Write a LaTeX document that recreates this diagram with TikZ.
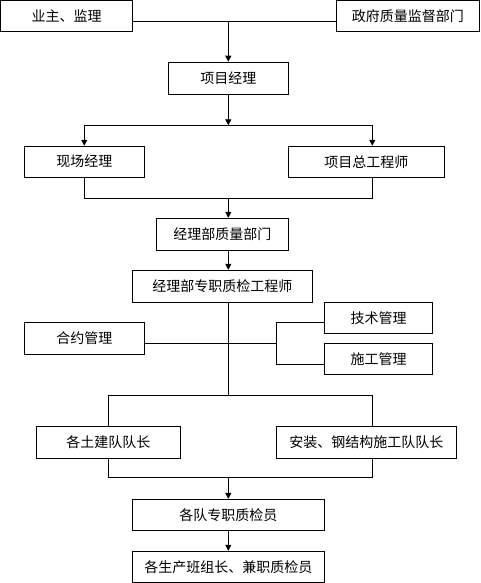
\documentclass[tikz,border=0pt]{standalone}
\usepackage{fontspec}
\setmainfont{Noto Sans CJK SC}
\usetikzlibrary{arrows.meta}
\begin{document}
\begin{tikzpicture}[x=1pt,y=-1pt,
  box/.style={draw,line width=0.9pt,inner sep=0pt,anchor=center,font=\fontsize{14}{16}\selectfont},
  conn/.style={line width=0.9pt},
  arr/.style={line width=0.9pt,-{Triangle[width=6pt,length=6pt]}}]
\useasboundingbox (0,0) rectangle (480,583);
% nodes
\node[box,minimum width=132pt,minimum height=31pt] (a) at (66.5,16) {业主、监理};
\node[box,minimum width=143.5pt,minimum height=31pt] (b) at (407.75,16) {政府质量监督部门};
\node[box,minimum width=120pt,minimum height=32pt] (c) at (228.3,78.2) {项目经理};
\node[box,minimum width=120pt,minimum height=31pt] (d) at (84.3,161.7) {现场经理};
\node[box,minimum width=156pt,minimum height=31pt] (e) at (366.3,161.7) {项目总工程师};
\node[box,minimum width=132pt,minimum height=32pt] (f) at (222.3,234.3) {经理部质量部门};
\node[box,minimum width=180pt,minimum height=32pt] (g) at (222.3,286.3) {经理部专职质检工程师};
\node[box,minimum width=120pt,minimum height=32pt] (h) at (84.3,338.3) {合约管理};
\node[box,minimum width=108.4pt,minimum height=31pt] (i) at (378.5,317.8) {技术管理};
\node[box,minimum width=108.4pt,minimum height=31pt] (j) at (378.5,358.7) {施工管理};
\node[box,minimum width=144pt,minimum height=32pt] (k) at (108.3,442.3) {各土建队队长};
\node[box,minimum width=180pt,minimum height=32pt] (l) at (366.3,442.3) {安装、钢结构施工队队长};
\node[box,minimum width=192pt,minimum height=31pt] (m) at (228.3,514.8) {各队专职质检员};
\node[box,minimum width=192pt,minimum height=31pt] (n) at (228.3,566.8) {各生产班组长、兼职质检员};
% junction coordinates
\coordinate (j1) at (228.3,21.3);
\coordinate (j2) at (228.3,125.3);
\coordinate (j2l) at (84.3,125.3);
\coordinate (j2r) at (372.3,125.3);
\coordinate (j3) at (228.3,198.3);
\coordinate (j3l) at (84.3,198.3);
\coordinate (j3r) at (372.3,198.3);
\coordinate (j4) at (228.3,343);
\coordinate (br) at (276.3,343);
\coordinate (brt) at (276.3,322.3);
\coordinate (brb) at (276.3,364);
\coordinate (j5) at (228.3,395.3);
\coordinate (j5l) at (108.3,395.3);
\coordinate (j5r) at (372.3,395.3);
\coordinate (j6) at (228.3,477.7);
\coordinate (j6l) at (108.3,477.7);
\coordinate (j6r) at (372.3,477.7);
% connectors
\draw[conn] (a.east |- j1) -- (b.west |- j1);
\draw[arr] (j1) -- (c.north);
\draw[arr] (c.south) -- (j2);
\draw[conn] (j2l) -- (j2r);
\draw[arr] (j2l) -- (d.north);
\draw[arr] (j2r) -- (j2r |- e.north);
\draw[conn] (d.south) -- (j3l) -- (j3r) -- (j3r |- e.south);
\draw[arr] (j3) -- (j3 |- f.north);
\draw[arr] (j3 |- f.south) -- (j3 |- g.north);
\draw[conn] (j3 |- g.south) -- (j5);
\draw[conn] (h.east |- j4) -- (br);
\draw[conn] (i.west |- brt) -- (brt) -- (brb) -- (j.west |- brb);
\draw[conn] (k.north) -- (j5l) -- (j5r) -- (j5r |- l.north);
\draw[conn] (k.south) -- (j6l) -- (j6r) -- (j6r |- l.south);
\draw[arr] (j6) -- (m.north);
\draw[arr] (m.south) -- (n.north);
\end{tikzpicture}
\end{document}
